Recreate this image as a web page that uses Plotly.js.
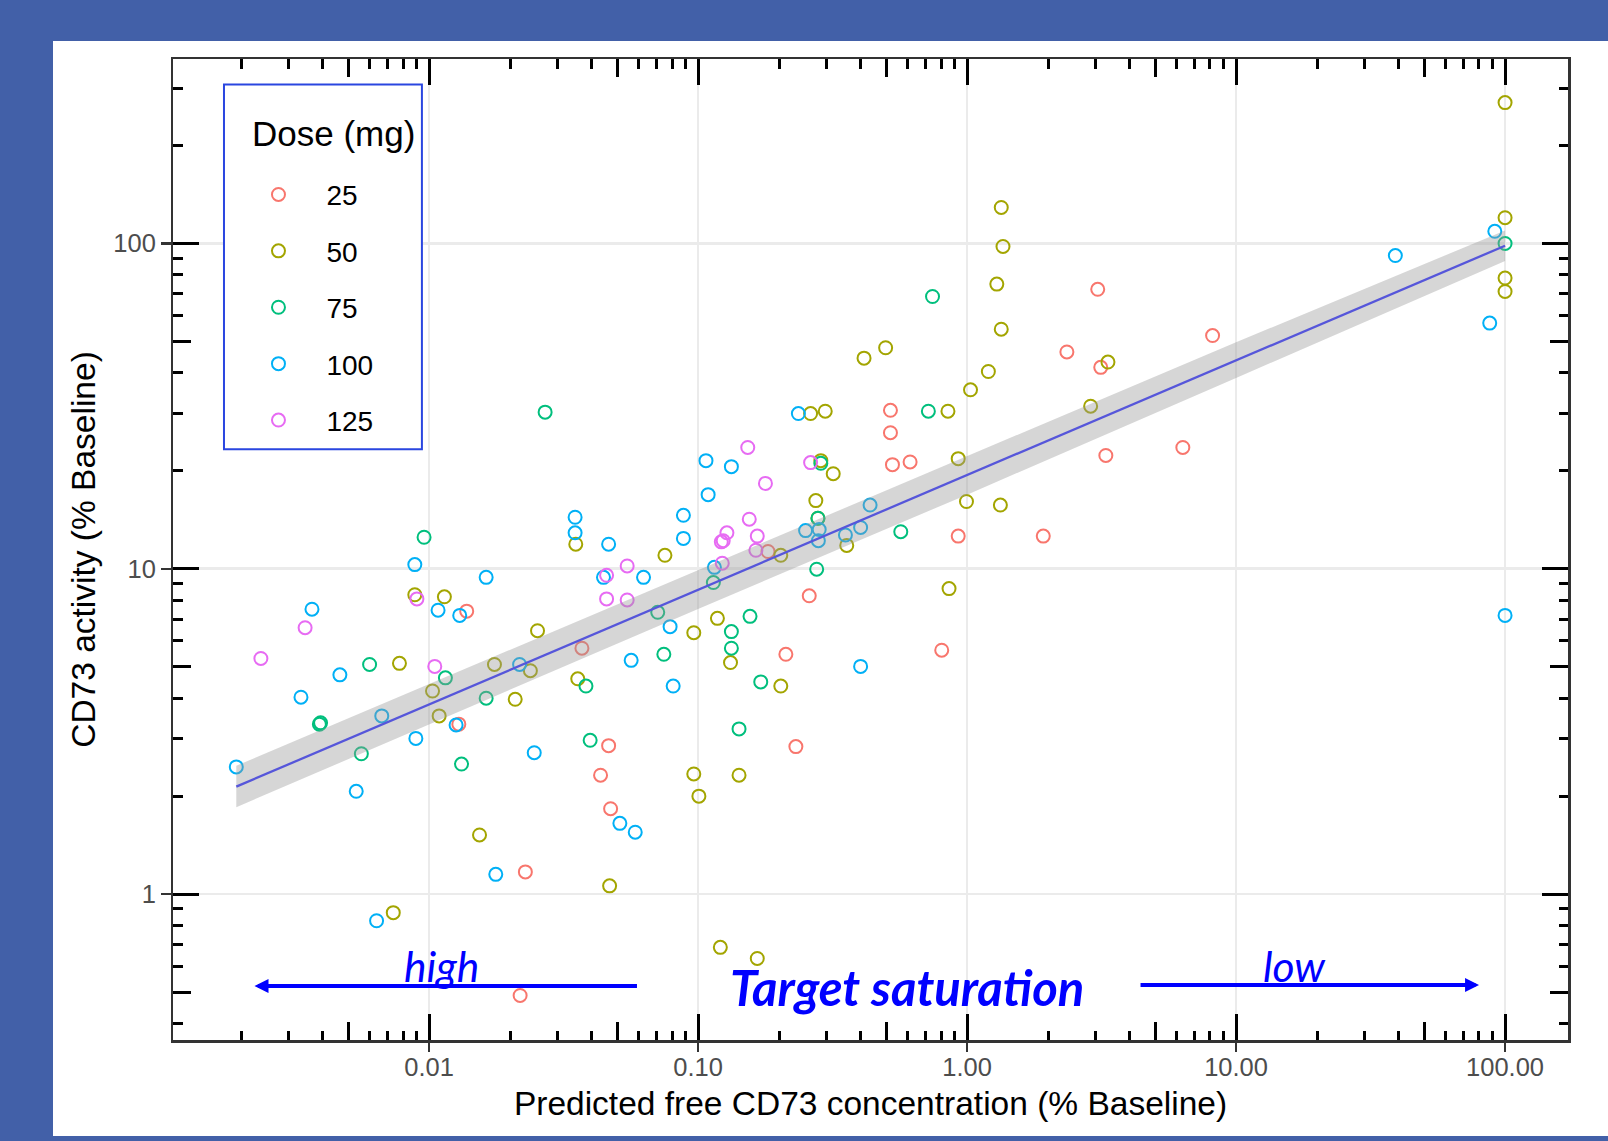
<!DOCTYPE html>
<html><head><meta charset="utf-8">
<script src="https://cdn.plot.ly/plotly-3.0.1.min.js"></script>
<style>
html,body{margin:0;padding:0;background:#4260a8;width:1608px;height:1141px;overflow:hidden;}
#panel{position:absolute;left:53px;top:41px;width:1555px;height:1095px;background:#ffffff;}
#chart{position:absolute;left:0;top:0;width:1608px;height:1141px;}
</style></head><body>
<div id="panel"></div><div id="chart"></div>
<script>
// ---- data: predicted free CD73 (% baseline) vs CD73 activity (% baseline) ----
const doseLabels = ['25', '50', '75', '100', '125'];
const doseColors = ['#F8766D', '#A3A500', '#00BF7D', '#00B0F6', '#E76BF3'];

const x25 = [0.0138, 0.0129, 0.037, 0.0434, 0.0465, 0.0473, 0.0228, 0.0218, 0.182, 0.212, 0.231, 0.259, 0.519, 0.519, 0.528, 0.614, 0.805, 0.927, 2.35, 3.06, 3.14, 3.28, 1.92, 6.34, 8.18];
const y25 = [7.41, 3.33, 5.70, 2.32, 2.86, 1.83, 1.17, 0.488, 11.3, 5.46, 2.84, 8.26, 30.7, 26.2, 20.9, 21.3, 5.62, 12.6, 46.4, 72.3, 41.6, 22.3, 12.6, 23.6, 52.1];

const x50 = [0.00736, 0.00776, 0.00885, 0.0114, 0.0103, 0.0109, 0.0154, 0.0175, 0.0209, 0.0238, 0.0253, 0.0351, 0.0357, 0.0469, 0.0753, 0.0964, 0.0964, 0.1007, 0.118, 0.121, 0.132, 0.142, 0.166, 0.203, 0.203, 0.262, 0.297, 0.274, 0.279, 0.286, 0.318, 0.357, 0.414, 0.498, 0.857, 0.849, 0.927, 0.995, 1.03, 1.20, 1.29, 1.34, 1.36, 1.34, 1.33, 2.88, 3.34, 100, 100, 100, 100];
const y50 = [0.877, 5.12, 8.32, 8.20, 4.21, 3.53, 1.52, 5.08, 3.97, 4.86, 6.45, 11.9, 4.59, 1.06, 11.0, 6.36, 2.34, 2.00, 7.04, 0.686, 5.15, 2.32, 0.634, 11.0, 4.36, 30.0, 30.5, 16.2, 14.3, 21.5, 19.6, 11.8, 44.4, 47.8, 8.69, 30.5, 21.8, 16.1, 35.5, 40.4, 75.0, 129, 97.9, 54.5, 15.7, 31.6, 43.2, 271, 120, 78.3, 71.2];

const x75 = [0.00391, 0.00395, 0.0056, 0.00601, 0.00958, 0.0115, 0.0132, 0.0163, 0.027, 0.0383, 0.0397, 0.0708, 0.0746, 0.133, 0.133, 0.142, 0.156, 0.171, 0.276, 0.279, 0.286, 0.567, 0.718, 0.744, 100, 0.114];
const y75 = [3.33, 3.36, 2.70, 5.08, 12.5, 4.62, 2.51, 4.00, 30.3, 4.36, 2.97, 7.35, 5.46, 5.70, 6.41, 3.22, 7.14, 4.49, 9.97, 14.3, 21.1, 13.0, 30.5, 68.7, 100, 9.07];

const x100 = [0.00192, 0.00334, 0.00367, 0.00466, 0.00536, 0.00638, 0.00667, 0.00885, 0.00893, 0.0108, 0.0126, 0.0130, 0.0163, 0.0177, 0.0217, 0.0246, 0.0349, 0.0349, 0.0445, 0.0465, 0.0512, 0.0564, 0.0584, 0.0627, 0.0787, 0.0808, 0.0882, 0.0882, 0.107, 0.109, 0.115, 0.133, 0.236, 0.251, 0.280, 0.282, 0.353, 0.402, 0.436, 0.402, 39.1, 87.7, 91.6, 100];
const y100 = [2.46, 4.03, 7.51, 4.72, 2.07, 0.828, 3.53, 10.3, 3.01, 7.46, 3.31, 7.19, 9.41, 1.15, 5.08, 2.72, 14.4, 12.9, 9.41, 11.9, 1.65, 5.23, 1.55, 9.41, 6.64, 4.36, 14.6, 12.4, 21.5, 16.9, 10.1, 20.6, 30.0, 13.1, 12.2, 13.2, 12.7, 13.4, 15.7, 5.01, 91.8, 56.9, 109, 7.19];

const x125 = [0.00237, 0.00346, 0.00901, 0.0105, 0.0457, 0.0457, 0.0545, 0.0545, 0.122, 0.124, 0.128, 0.123, 0.153, 0.155, 0.164, 0.166, 0.178, 0.262];
const y125 = [5.30, 6.59, 8.08, 5.01, 9.55, 8.08, 10.2, 8.02, 12.1, 12.2, 12.9, 10.4, 23.6, 14.2, 11.4, 12.6, 18.3, 21.2];

// linear fit (log-log) and its confidence band
const smoothX  = [0.00192, 0.01, 0.1, 1, 10, 100];
const smoothY  = [2.14, 3.83, 8.63, 19.4, 43.7, 98.4];
const smoothLo = [1.85, 3.32, 7.52, 16.9, 38.6, 88.3];
const smoothHi = [2.48, 4.42, 9.91, 22.2, 49.7, 109.6];

const xTickVals = [0.01, 0.1, 1, 10, 100];
const xTickText = ['0.01', '0.10', '1.00', '10.00', '100.00'];
const yTickVals = [1, 10, 100];
const yTickText = ['1', '10', '100'];

const seriesX = [x25, x50, x75, x100, x125];
const seriesY = [y25, y50, y75, y100, y125];

// ---- geometry ----
const W = 1608, H = 1141;
const L = 172.5, R = 1568, T = 58.5, B = 1040;
const px = v => (v - L) / (R - L);
const py = v => (B - v) / (B - T);
const XR = [-2.952, 2.234], YR = [-0.4485, 2.567];

// positions for annotation-style log ticks
function logTicks(lo, hi, mults) {
  const out = [];
  for (let e = Math.floor(lo) - 1; e <= Math.ceil(hi); e++)
    for (const m of mults) { const v = m * 10 ** e; const l = Math.log10(v); if (l >= lo - 1e-9 && l <= hi + 1e-9) out.push(v); }
  return out;
}
const longX = logTicks(XR[0], XR[1], [1]), midX = logTicks(XR[0], XR[1], [5]), shortX = logTicks(XR[0], XR[1], [2, 3, 4, 6, 7, 8, 9]);
const longY = logTicks(YR[0], YR[1], [1]), midY = logTicks(YR[0], YR[1], [5]), shortY = logTicks(YR[0], YR[1], [2, 3, 4, 6, 7, 8, 9]);

const FONT = 'Liberation Sans, Arial, sans-serif';

const traces = [];
for (let i = 0; i < 5; i++) {
  traces.push({
    type: 'scatter', mode: 'markers', x: seriesX[i], y: seriesY[i], name: doseLabels[i],
    legendgroup: 'g' + i,
    marker: { symbol: 'circle-open', size: 13, color: doseColors[i], line: { width: 2, color: doseColors[i] } },
    hoverinfo: 'skip'
  });
}
traces.push({
  type: 'scatter', mode: 'lines', x: smoothX.concat(smoothX.slice().reverse()), y: smoothHi.concat(smoothLo.slice().reverse()),
  fill: 'toself', fillcolor: 'rgba(153,153,153,0.4)', line: { width: 0 }, showlegend: false, hoverinfo: 'skip'
});
traces.push({
  type: 'scatter', mode: 'lines', x: smoothX, y: smoothY, line: { color: '#5656da', width: 2.3 }, showlegend: false, hoverinfo: 'skip'
});
traces.push({ type: 'scatter', x: [], y: [], xaxis: 'x2', yaxis: 'y2', showlegend: false, hoverinfo: 'skip' });
traces.push({ type: 'scatter', x: [], y: [], xaxis: 'x3', yaxis: 'y3', showlegend: false, hoverinfo: 'skip' });

const tickAxBase = { showticklabels: false, showgrid: false, zeroline: false, showline: false, mirror: 'ticks', ticks: 'inside', tickcolor: '#000', tickwidth: 3 };

const layout = {
  width: W, height: H,
  margin: { l: L, r: W - R, t: T, b: H - B, pad: 0 },
  paper_bgcolor: 'rgba(0,0,0,0)', plot_bgcolor: 'rgba(0,0,0,0)',
  showlegend: true,
  xaxis: {
    type: 'log', range: XR, tickvals: xTickVals, ticktext: xTickText,
    ticks: 'outside', ticklen: 9.5, tickwidth: 2.5, tickcolor: '#333', ticklabelstandoff: -7,
    showline: true, linecolor: '#333', linewidth: 2.5, mirror: true,
    showgrid: true, gridcolor: '#ebebeb', gridwidth: 2.6, zeroline: false,
    tickfont: { family: FONT, size: 25.5, color: '#4d4d4d' },
    title: { text: 'Predicted free CD73 concentration (% Baseline)', font: { family: FONT, size: 33.5, color: '#000' }, standoff: 12 },
    automargin: false
  },
  yaxis: {
    type: 'log', range: YR, tickvals: yTickVals, ticktext: yTickText,
    ticks: 'outside', ticklen: 9.5, tickwidth: 2.5, tickcolor: '#333',
    showline: true, linecolor: '#333', linewidth: 2.5, mirror: true,
    showgrid: true, gridcolor: '#ebebeb', gridwidth: 2.6, zeroline: false,
    tickfont: { family: FONT, size: 25.5, color: '#4d4d4d' },
    title: { text: 'CD73 activity (% Baseline)', font: { family: FONT, size: 33.5, color: '#000' }, standoff: 8 },
    automargin: false
  },
  xaxis2: Object.assign({}, tickAxBase, { type: 'log', range: XR, overlaying: 'x', anchor: 'y', side: 'bottom', tickvals: longX, ticklen: 26,
    minor: { tickvals: shortX, ticks: 'inside', ticklen: 9.5, tickwidth: 3, tickcolor: '#000', showgrid: false } }),
  xaxis3: Object.assign({}, tickAxBase, { type: 'log', range: XR, overlaying: 'x', anchor: 'y', side: 'bottom', tickvals: midX, ticklen: 18 }),
  yaxis2: Object.assign({}, tickAxBase, { type: 'log', range: YR, overlaying: 'y', anchor: 'x', side: 'left', tickvals: longY, ticklen: 26,
    minor: { tickvals: shortY, ticks: 'inside', ticklen: 9.5, tickwidth: 3, tickcolor: '#000', showgrid: false } }),
  yaxis3: Object.assign({}, tickAxBase, { type: 'log', range: YR, overlaying: 'y', anchor: 'x', side: 'left', tickvals: midY, ticklen: 18 }),
  legend: {
    x: px(230), y: py(169.3), xanchor: 'left', yanchor: 'top',
    bgcolor: 'rgba(0,0,0,0)', borderwidth: 0,
    font: { family: FONT, size: 28, color: '#000' },
    itemwidth: 86, tracegroupgap: 17, itemclick: false, itemdoubleclick: false
  },
  shapes: [
    { type: 'rect', xref: 'paper', yref: 'paper', x0: px(223.5), x1: px(421.5), y0: py(449), y1: py(84),
      fillcolor: '#ffffff', line: { color: '#2a46e0', width: 2 }, layer: 'above' }
  ],
  annotations: [
    { xref: 'paper', yref: 'paper', x: px(250), y: py(133), text: 'Dose (mg)', showarrow: false, xanchor: 'left', yanchor: 'middle',
      font: { family: FONT, size: 35, color: '#000' } },
    { xref: 'paper', yref: 'paper', x: px(254), y: py(986), ax: 384, ay: 0, text: '', showarrow: true,
      arrowhead: 2, arrowsize: 0.7, arrowwidth: 4, arrowcolor: '#0000ff', standoff: 0, startstandoff: 0 },
    { xref: 'paper', yref: 'paper', x: px(1479), y: py(985), ax: -340, ay: 0, text: '', showarrow: true,
      arrowhead: 2, arrowsize: 0.7, arrowwidth: 4, arrowcolor: '#0000ff', standoff: 0, startstandoff: 0 },
    { xref: 'paper', yref: 'paper', x: px(441), y: py(965), text: 'high', showarrow: false, xanchor: 'center', yanchor: 'middle',
      font: { family: 'Lato, sans-serif', size: 42.5, color: '#0000ff', style: 'italic' } },
    { xref: 'paper', yref: 'paper', x: px(1294), y: py(965), text: 'low', showarrow: false, xanchor: 'center', yanchor: 'middle',
      font: { family: 'Lato, sans-serif', size: 42.5, color: '#0000ff', style: 'italic' } },
    { xref: 'paper', yref: 'paper', x: px(906.5), y: py(987), text: 'Target saturation', showarrow: false, xanchor: 'center', yanchor: 'middle',
      font: { family: 'Lato, sans-serif', size: 49, color: '#0000ff', style: 'italic', weight: 'bold' } }
  ]
};

Plotly.newPlot('chart', traces, layout, { staticPlot: true, displayModeBar: false });
</script></body></html>
